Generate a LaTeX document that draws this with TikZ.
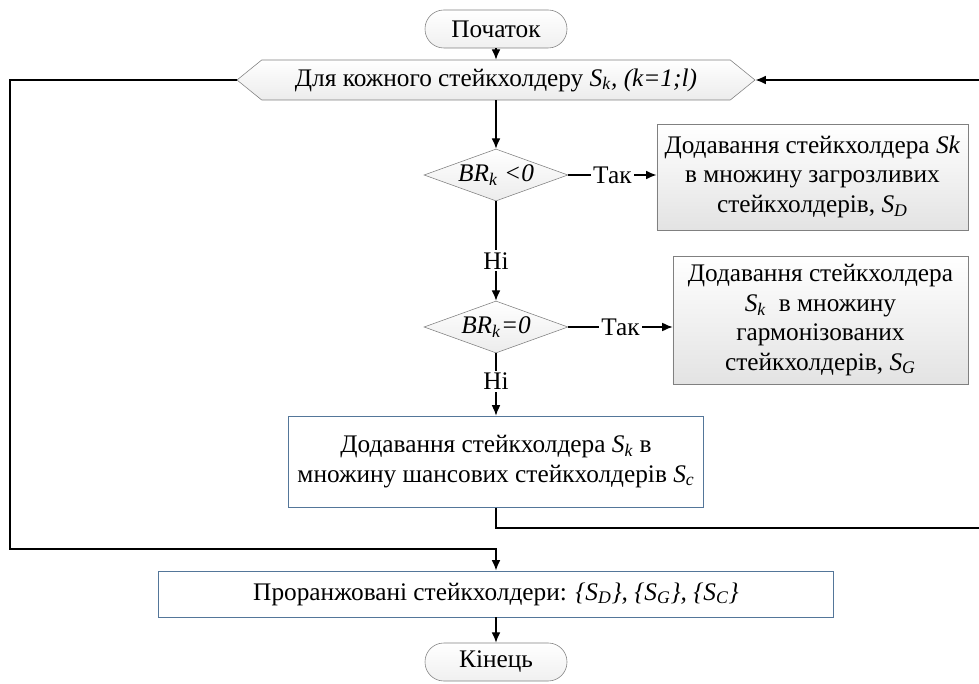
\documentclass[tikz,border=0pt]{standalone}
\usepackage{fontspec}
\setmainfont{Liberation Serif}
\usetikzlibrary{arrows.meta,positioning,shapes.geometric,shapes.symbols,calc}

\definecolor{edgegray}{RGB}{128,128,128}
\definecolor{edgeblue}{RGB}{84,118,153}
\newcommand{\ssub}[2]{\textit{#1}\textsubscript{\textit{#2}}}

\begin{document}
\begin{tikzpicture}[
  x=1cm, y=1cm,
  font=\fontsize{18}{21}\selectfont,
  term/.style={draw=edgegray, rounded corners=0.47cm, minimum width=3.55cm, minimum height=0.95cm, top color=white, bottom color=gray!12},
  loopbox/.style={draw=edgegray, signal, signal to=west and east, signal pointer angle=78, minimum width=12.95cm, minimum height=1.0cm, inner sep=0pt, top color=white, bottom color=gray!15},
  decide/.style={draw=edgegray, diamond, aspect=2.9, minimum width=3.6cm, minimum height=1.3cm, inner sep=0pt, top color=white, bottom color=gray!15},
  graybox/.style={draw=edgegray, align=center, top color=white, bottom color=gray!22},
  bluebox/.style={draw=edgeblue, align=center, fill=white, line width=0.7pt},
  arrow/.style={-{Latex[length=2.6mm,width=2.2mm]}, line width=0.9pt},
  lbl/.style={fill=white, inner sep=1.5pt}
]
\useasboundingbox (0,0) rectangle (24.475,-17.1);

\node[term] (start) at (12.4,-0.725) {Початок};
\node[loopbox] (loop) at (12.4,-2.0) {Для кожного стейкхолдеру \ssub{S}{k}\textit{, (k=1;l)}};
\node[decide] (dec1) at (12.4,-4.375) {\ssub{BR}{k} \textit{<0}};
\node[graybox, minimum width=7.78cm, minimum height=2.65cm] (box1) at (20.31,-4.42) {Додавання стейкхолдера \textit{Sk}\\в множину загрозливих\\стейкхолдерів, \ssub{S}{D}};
\node[decide] (dec2) at (12.4,-8.175) {\ssub{BR}{k}\textit{=0}};
\node[graybox, minimum width=7.375cm, minimum height=3.2cm] (box2) at (20.51,-8.0) {Додавання стейкхолдера\\\ssub{S}{k}~ в множину\\гармонізованих\\стейкхолдерів, \ssub{S}{G}};
\node[bluebox, minimum width=10.375cm, minimum height=2.275cm] (box3) at (12.4,-11.54) {Додавання стейкхолдера \ssub{S}{k} в\\множину шансових стейкхолдерів \ssub{S}{c}};
\node[bluebox, minimum width=16.875cm, minimum height=1.15cm] (box4) at (12.4,-14.85) {Проранжовані стейкхолдери: \textit{\{S\textsubscript{D}\}, \{S\textsubscript{G}\}, \{S\textsubscript{C}\}}};
\node[term] (end) at (12.4,-16.55) {Кінець};

\coordinate (rdown) at (24.6,-13.2);
\coordinate (lleft) at (0.25,-13.725);

\draw[arrow] (start.south) -- (loop.north);
\draw[arrow] (loop.south) -- (dec1.north);
\draw[arrow] (dec1.east) -- node[lbl] {Так} (dec1.east -| box1.west);
\draw[arrow] (dec1.south) -- node[lbl, pos=0.6] {Ні} (dec2.north);
\draw[arrow] (dec2.east) -- node[lbl] {Так} (dec2.east -| box2.west);
\draw[arrow] (dec2.south) -- node[lbl, pos=0.45] {Ні} (box3.north);
\draw[arrow] (box3.south) |- (rdown) |- (loop.east);
\draw[arrow] (loop.west) -| (lleft) -| (box4.north);
\draw[arrow] (box4.south) -- (end.north);
\end{tikzpicture}
\end{document}
